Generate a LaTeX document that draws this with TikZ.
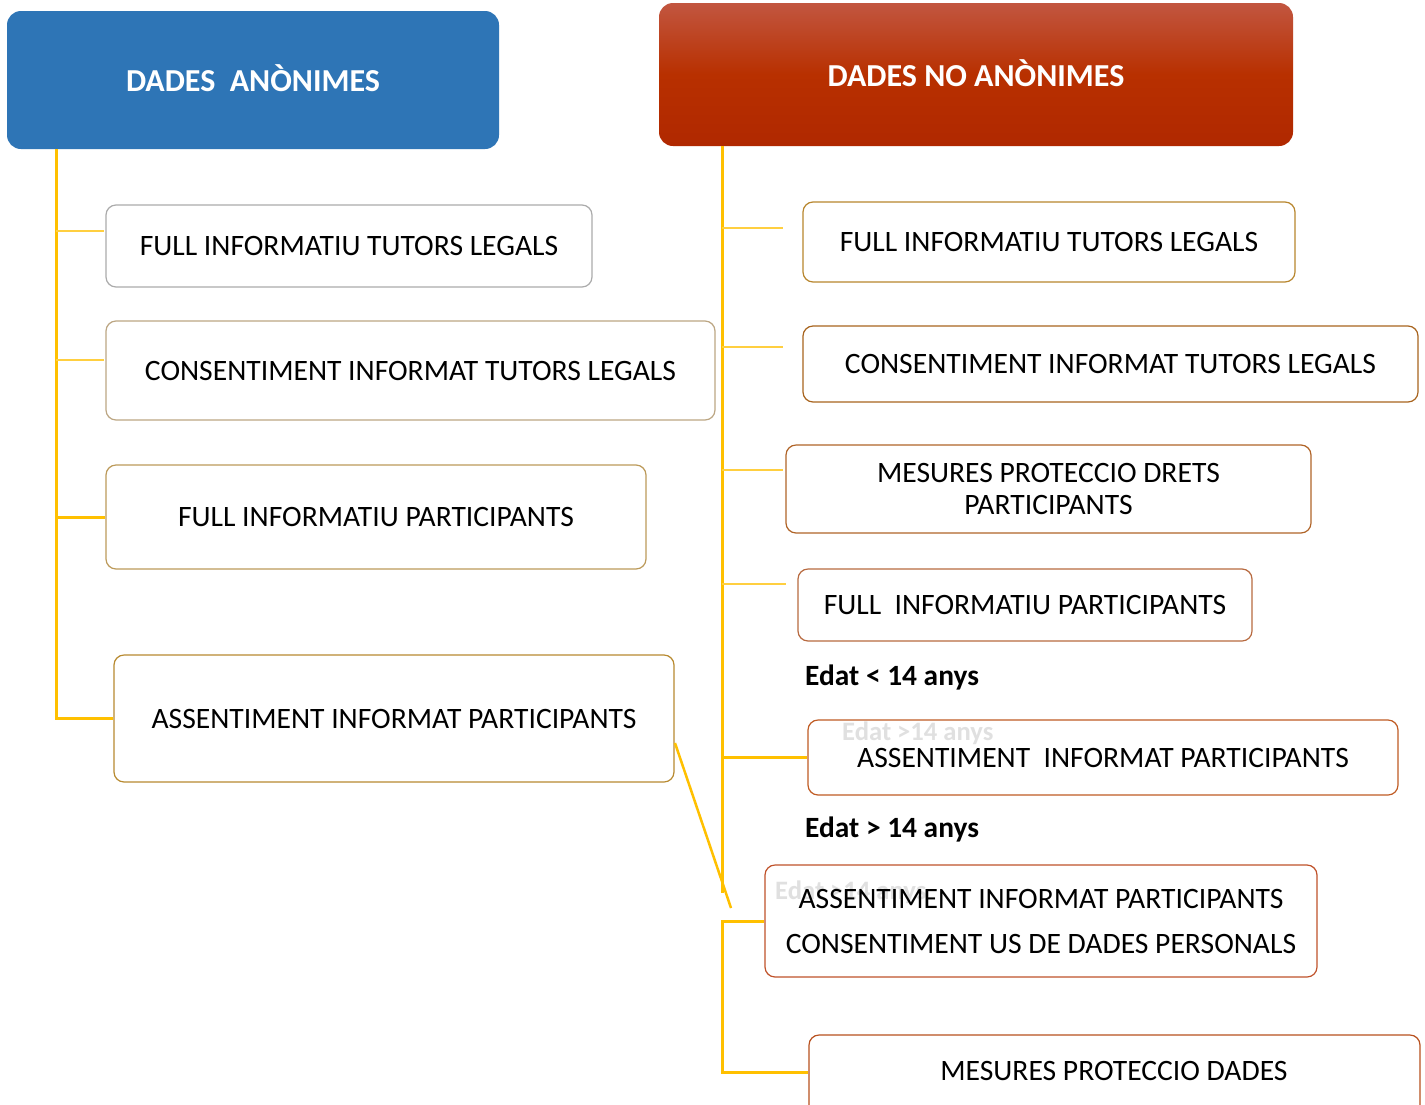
\documentclass[tikz,border=0pt]{standalone}
\usepackage{fontspec}
\setmainfont{Carlito}
\definecolor{conn}{HTML}{FFC000}
\definecolor{connlt}{HTML}{FFCF40}
\definecolor{blueh}{HTML}{2E75B6}
\definecolor{redtop}{HTML}{C25640}
\definecolor{redmid}{HTML}{B83000}
\definecolor{redbot}{HTML}{B02800}
\begin{document}
\begin{tikzpicture}[x=1pt,y=-1pt,
  box/.style={draw, rounded corners=10pt, line width=1.2pt, fill=white, inner sep=0pt,
    font=\fontsize{29.6}{32}\selectfont, text=black, align=center},
  head/.style={rounded corners=14pt, inner sep=0pt, font=\bfseries\fontsize{32}{36}\selectfont, text=white},
  lab/.style={font=\bfseries\fontsize{29.4}{32}\selectfont, anchor=west, inner sep=0pt},
  faint/.style={font=\bfseries\fontsize{26.6}{30}\selectfont, anchor=west, inner sep=0pt, text=black!12},
  trunk/.style={draw=conn, line width=3pt},
  twig/.style={draw=connlt, line width=1.5pt},
]
\clip (0,0) rectangle (1425,1104);
\fill[white] (0,0) rectangle (1425,1104);

% headers
\node[head, fill=blueh, minimum width=492pt, minimum height=138pt] (HL) at (253,80) {\raisebox{3pt}{DADES\ \ ANÒNIMES}};
\node[head, top color=redtop, bottom color=redbot, middle color=redmid, minimum width=634pt, minimum height=143pt] (HR) at (976,74.5) {\raisebox{2pt}{DADES NO ANÒNIMES}};

% left boxes
\node[box, draw=black!33, minimum width=486pt, minimum height=82pt] (L1) at (349,246) {FULL INFORMATIU TUTORS LEGALS};
\node[box, draw={rgb,255:red,188;green,166;blue,131}, minimum width=609pt, minimum height=99pt] (L2) at (410.5,370.5) {CONSENTIMENT INFORMAT TUTORS LEGALS};
\node[box, draw={rgb,255:red,188;green,154;blue,90}, minimum width=540pt, minimum height=104pt] (L3) at (376,517) {FULL INFORMATIU PARTICIPANTS};
\node[box, draw={rgb,255:red,184;green,138;blue,48}, minimum width=560pt, minimum height=127pt] (L4) at (394,718.5) {ASSENTIMENT INFORMAT PARTICIPANTS};

% right boxes
\node[box, draw={rgb,255:red,184;green,134;blue,46}, minimum width=492pt, minimum height=80pt] (R1) at (1049,242) {FULL INFORMATIU TUTORS LEGALS};
\node[box, draw={rgb,255:red,168;green,100;blue,30}, minimum width=615pt, minimum height=76pt] (R2) at (1110.5,364) {CONSENTIMENT INFORMAT TUTORS LEGALS};
\node[box, draw={rgb,255:red,176;green,100;blue,40}, minimum width=525pt, minimum height=88pt] (R3) at (1048.5,489) {MESURES PROTECCIO DRETS\\[0pt]PARTICIPANTS};
\node[box, draw={rgb,255:red,184;green,106;blue,64}, minimum width=454pt, minimum height=72pt] (R4) at (1025,605) {FULL\ \ INFORMATIU PARTICIPANTS};
\node[box, draw={rgb,255:red,192;green,92;blue,36}, minimum width=590pt, minimum height=75pt] (R5) at (1103,757.5) {ASSENTIMENT\ \ INFORMAT PARTICIPANTS};
\node[faint] (F1) at (842,733) {Edat >14 anys};
\node[faint] (F2) at (775,892) {Edat >14 anys};
\node[box, fill=none, draw={rgb,255:red,192;green,82;blue,42}, minimum width=552pt, minimum height=112pt] (R6) at (1041,921) {ASSENTIMENT INFORMAT PARTICIPANTS\\[13pt]CONSENTIMENT US DE DADES PERSONALS};
\node[box, draw={rgb,255:red,184;green,80;blue,30}, minimum width=611pt, minimum height=110pt] (R7) at (1114.5,1090) {};
\node[font=\fontsize{29.6}{32}\selectfont] (R7t) at (1114,1071) {MESURES PROTECCIO DADES};

\node[lab] (E1) at (805,677) {Edat < 14 anys};
\node[lab] (E2) at (805,829) {Edat > 14 anys};

% left connectors
\coordinate (lt) at (56,149);
\draw[trunk] (lt) |- (L4.west);
\draw[trunk] (lt |- L3.west) -- (L3.west);
\coordinate (la1) at (56,231); \coordinate (lb1) at (104,231);
\coordinate (la2) at (56,360); \coordinate (lb2) at (104,360);
\draw[twig] (la1) -- (lb1);
\draw[twig] (la2) -- (lb2);

% right connectors
\coordinate (rt) at (722,146);
\coordinate (rtb) at (722,893);
\draw[trunk] (rt) -- (rtb);
\draw[trunk] (rt |- R5.west) -- (R5.west);
\coordinate (ra1) at (722,228); \coordinate (rb1) at (783,228);
\coordinate (ra2) at (722,347); \coordinate (rb2) at (783,347);
\coordinate (ra3) at (722,470); \coordinate (rb3) at (783,470);
\coordinate (ra4) at (722,584); \coordinate (rb4) at (786,584);
\draw[twig] (ra1) -- (rb1);
\draw[twig] (ra2) -- (rb2);
\draw[twig] (ra3) -- (rb3);
\draw[twig] (ra4) -- (rb4);
\coordinate (rbot) at (722,1072);
\draw[trunk] (R6.west) -| (rbot) -- (R7.west |- rbot);
\coordinate (d1) at (675,743); \coordinate (d2) at (731,908);
\draw[conn, line width=2.5pt] (d1) -- (d2);
\end{tikzpicture}
\end{document}
